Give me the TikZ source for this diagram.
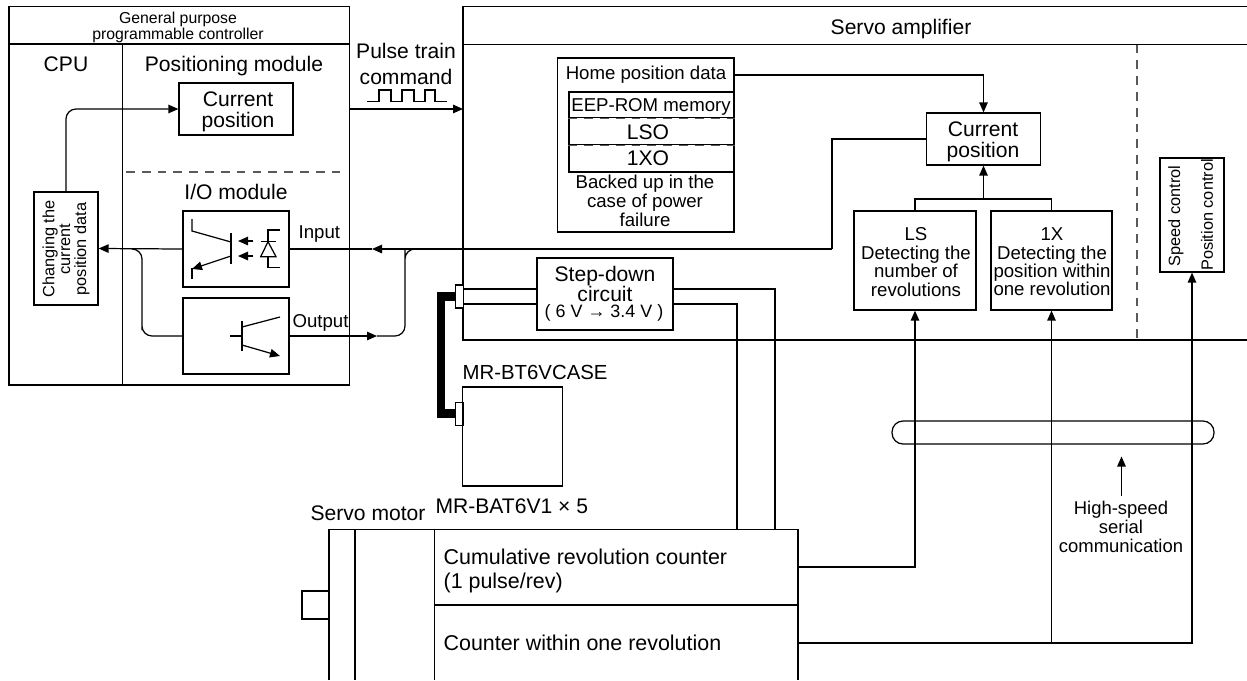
\documentclass[tikz,border=0pt]{standalone}
\usepackage{fontspec}
\setmainfont{Liberation Sans}
\usetikzlibrary{arrows.meta}
\newcommand{\fs}[1]{\fontsize{#1}{#1}\selectfont}
\begin{document}
\begin{tikzpicture}[x=0.02cm,y=-0.02cm,>={Triangle[length=2mm,width=1.7mm]},line width=0.7pt,
roundwire/.style={draw,line width=0.7pt,rounded corners=2mm},box/.style={draw,line width=0.7pt,inner sep=0pt,align=center},
label/.style={inner sep=0pt,align=center,font=\fs{12}},labelsm/.style={inner sep=0pt,align=center,font=\fontsize{10.6}{10.6}\selectfont},labeltiny/.style={inner sep=0pt,align=center,font=\fontsize{9.3}{9}\selectfont},
guide/.style={dashed,dash pattern=on 5pt off 4pt,line width=0.6pt,gray!70!black},pinbox/.style={draw,line width=0.7pt,fill=white,inner sep=0pt,minimum width=0.15cm,minimum height=0.46cm},cable/.style={line width=5pt}]
\useasboundingbox (0,0) rectangle (1247,680);
% controller
\node[box,minimum width=6.81cm,minimum height=0.75cm] (plctitle) at (179.25,25.25) {};
\node[labeltiny,font=\fontsize{9}{9.1}\selectfont] (plcname) at (178,27) {General purpose\\programmable controller};
\node[box,minimum width=2.27cm,minimum height=6.82cm] (cpupanel) at (65.75,214.5) {}; \node[box,minimum width=4.54cm,minimum height=6.82cm] (pospanel) at (236,214.5) {};
\node[label] (cpuname) at (66,64) {CPU}; \node[label] (posname) at (234,66) {Positioning module}; \node[label] (ioname) at (236,192) {I/O module};
\node[box,minimum width=2.28cm,minimum height=1.04cm] (curpos) at (236,109) {}; \node[label] (curpostxt) at (238,112) {Current\\position};
\node[box,minimum width=1.28cm,minimum height=2.26cm] (changing) at (66,248.5) {}; \node[labeltiny,rotate=90] (changingtxt) at (66,249) {Changing the\\current\\position data};
\node[box,minimum width=2.12cm,minimum height=1.52cm] (inbox) at (236,249) {}; \node[box,minimum width=2.12cm,minimum height=1.52cm] (outbox) at (236,336) {};
\node[labelsm,anchor=west] (inputtxt) at (298,234) {Input}; \node[labelsm,anchor=west] (outputtxt) at (292,323) {Output};
\coordinate (posdashL) at (126,172); \coordinate (posdashR) at (345,172); \draw[guide] (posdashL)--(posdashR);
% optocoupler and transistor
\draw (192,219)--(192,231)--(231,242); \draw (231,233)--(231,264); \draw (192,279)--(192,268); \draw[->] (231,256)--(192,269);
\draw[->] (253,241)--(238,241); \draw[->] (253,256)--(238,256);
\draw (280,230)-|(268,241.7); \draw (260.7,241.7)--(276,241.7); \draw (260.7,256.7)--(276,256.7)--(268,241.7)--cycle; \draw (268,256.7)|-(280,267.7);
\draw (230,336)--(242,336); \draw (242,321)--(242,351); \draw (242,327)--(280,317); \draw[->] (242,345)--(280,356);
% servo amplifier
\draw (1247,6.5)--(463,6.5)--(463,340)--(1247,340); \draw (463,44.5)--(1247,44.5);
\coordinate (ampdashT) at (1137,44.5); \coordinate (ampdashB) at (1137,340); \draw[guide] (ampdashT)--(ampdashB);
\node[label] (ampname) at (901,29) {Servo amplifier};
\node[label] (pulsetxt) at (406,64) {Pulse train\\[3pt]command};
\draw (367,101.5)-|(379,90)-|(391,101.5)-|(402,90)-|(414,101.5)-|(425,90)-|(435,101.5)--(447,101.5);
\coordinate (ampin) at (463,109); \draw[->] (pospanel.east|-ampin)--(ampin);
\node[box,minimum width=3.53cm,minimum height=3.48cm] (homebox) at (645.75,145) {};
\node[labelsm] (hometxt) at (646,75) {Home position data};
\node[box,minimum width=3.3cm,minimum height=0.52cm] (eeprom) at (651.5,105) {}; \node[box,minimum width=3.3cm,minimum height=0.54cm] (lso) at (651.5,131.5) {}; \node[box,minimum width=3.3cm,minimum height=0.54cm] (xo) at (651.5,158.5) {};
\draw[white,line width=1pt] (eeprom.south west)--(eeprom.south east); \draw[white,line width=1pt] (lso.south west)--(lso.south east);
\draw[guide] (eeprom.south west)--(eeprom.south east); \draw[guide] (lso.south west)--(lso.south east);
\node[labelsm] (eeptxt) at (651,107) {EEP-ROM memory}; \node[label] (lsotxt) at (648,132) {LSO}; \node[label] (xotxt) at (648,158) {1XO};
\node[labelsm,font=\fontsize{10.6}{10.8}\selectfont] (backedtxt) at (645,201) {Backed up in the\\case of power\\failure};
\node[box,minimum width=2.28cm,minimum height=1.04cm] (ampcur) at (983.5,139) {}; \node[label] (ampcurtxt) at (983,142) {Current\\position};
\node[box,minimum width=2.44cm,minimum height=1.98cm] (lsbox) at (915,260.5) {}; \node[box,minimum width=2.42cm,minimum height=1.98cm] (xbox) at (1051.5,260.5) {};
\node[labelsm,font=\fontsize{10.6}{10.5}\selectfont] (lstxt) at (916,262) {LS\\Detecting the\\number of\\revolutions}; \node[labelsm,font=\fontsize{10.6}{10.5}\selectfont] (xtxt) at (1052,262) {1X\\Detecting the\\position within\\one revolution};
\node[box,minimum width=1.28cm,minimum height=2.28cm] (ctrlbox) at (1192,215) {};
\node[labeltiny,rotate=90] (speedtxt) at (1176,216) {Speed control}; \node[labeltiny,rotate=90] (postxt) at (1207,215) {Position control};
\node[box,minimum width=2.72cm,minimum height=1.44cm] (stepdown) at (605,294) {};
\node[label,font=\fontsize{12}{11.4}\selectfont] (steptxt) at (605,284) {Step-down\\circuit}; \node[labelsm,font=\fontsize{10.2}{10.2}\selectfont] (volttxt) at (604,313) {( 6 V → 3.4 V )};
\draw[->] (homebox.east|-hometxt)-|(ampcur.north);
\coordinate (fbjoin) at (832,249); \coordinate (inmid) at (372,249); \draw (ampcur.west)-|(fbjoin); \draw[->] (fbjoin)--(inmid); \draw (inmid)--(inbox.east);
\draw[->] (inbox.west)--(changing.east);
\coordinate (outmid) at (377,336); \draw[->] (outbox.east)--(outmid);
\coordinate (outupR) at (405,258); \coordinate (inmerge) at (416,249); \draw[roundwire] (outmid)-|(outupR)--++(0,-9)--(inmerge);
\coordinate (outL) at (142,336); \coordinate (inmergeL) at (132,249); \draw[roundwire] (outbox.west)-|(outL)|-(inmergeL);
\draw[roundwire,->] (changing.north)|-(curpos.west);
\coordinate (xjoin) at (983.5,199); \draw (lsbox.north)|-(xjoin)-|(xbox.north); \draw[->] (xjoin)--(ampcur.south);
% battery
\node[box,minimum width=2cm,minimum height=1.98cm] (battery) at (512.5,436.5) {};
\node[label,anchor=west,font=\fs{11.6}] (casetxt) at (462,372) {MR-BT6VCASE}; \node[label,anchor=west] (battxt) at (435,506) {MR-BAT6V1 × 5};
\coordinate (ampplug) at (456,296.5); \coordinate (batplug) at (456,413.5);
\draw[cable] (ampplug)-|(441,413.5)--(batplug);
\node[pinbox] (amppin) at (459.5,296.5) {}; \node[pinbox] (batpin) at (459.3,414) {};
\coordinate (sdinA) at (537,289); \coordinate (sdinB) at (537,304); \coordinate (sdoutA) at (673,289); \coordinate (sdoutB) at (673,304);
\draw (463,289)--(sdinA); \draw (463,304)--(sdinB);
% servo motor
\node[label,anchor=west] (motortxt) at (310,513) {Servo motor};
\node[box,minimum width=0.54cm,minimum height=0.56cm] (shaft) at (315.5,605) {};
\draw (329,680)--(329,529.7)--(798,529.7)--(798,680); \draw (355,529.7)--(355,680); \draw (434.5,529.7)--(434.5,680); \draw (434.5,605)--(798,605);
\node[label,anchor=west,font=\fs{12.2}] (cumtxt) at (443,557) {Cumulative revolution counter}; \node[label,anchor=west,font=\fs{12.2}] (pulsrev) at (443,583) {(1 pulse/rev)}; \node[label,anchor=west,font=\fs{12.2}] (cnttxt) at (443,643) {Counter within one revolution};
\coordinate (mottopA) at (775,529.7); \coordinate (mottopB) at (737,529.7); \draw (sdoutA)-|(mottopA); \draw (sdoutB)-|(mottopB);
\coordinate (cumout) at (798,567); \coordinate (cntout) at (798,643); \coordinate (xdrop) at (1051.5,643); \draw[->] (cumout)-|(lsbox.south); \draw[->] (cntout)-|(ctrlbox.south); \draw[->] (xdrop)--(xbox.south);
% serial link
\node[draw,line width=0.7pt,rounded corners=2.2mm,minimum width=6.44cm,minimum height=0.46cm] (busbar) at (1053,432.5) {};
\coordinate (hsT) at (1121.5,456.5); \coordinate (hsB) at (1121.5,496); \draw[->] (hsB)--(hsT);
\node[labelsm,font=\fontsize{10.5}{10.8}\selectfont] (hstxt) at (1121,527) {High-speed\\serial\\communication};
\end{tikzpicture}
\end{document}
